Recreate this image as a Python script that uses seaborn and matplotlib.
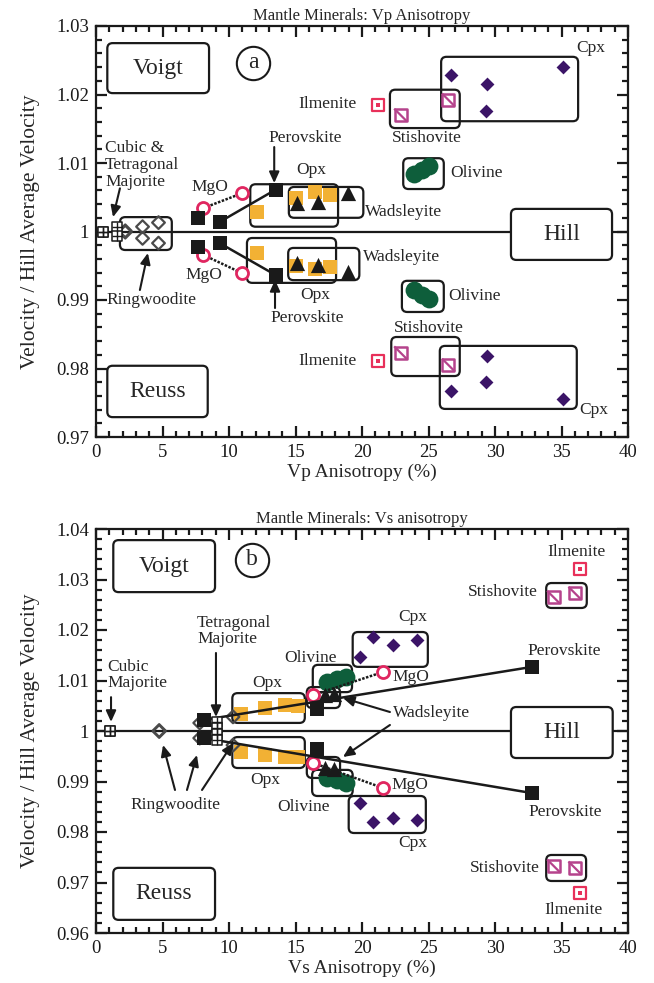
import matplotlib
matplotlib.use("Agg")
import matplotlib.pyplot as plt
import matplotlib.ticker as mticker
from matplotlib.patches import FancyBboxPatch
from matplotlib.path import Path
import numpy as np
import pandas as pd
import seaborn as sns

# ---------------- panel (a): Vp anisotropy ----------------
vp_cubic_x = [0.5]
vp_cubic_voigt = [1.0000]
vp_cubic_reuss = [1.0000]
vp_tetra_x = [1.6]
vp_tetra_voigt = [1.0007]
vp_tetra_reuss = [0.9993]
vp_ring_x = [2.2, 3.5, 4.7]
vp_ring_voigt = [1.0001, 1.0007, 1.0013]
vp_ring_reuss = [0.9999, 0.9990, 0.9983]
vp_mgo_x = [8.05, 11.0]
vp_mgo_voigt = [1.0034, 1.0056]
vp_mgo_reuss = [0.9966, 0.9939]
vp_pv_x = [7.7, 9.3, 13.5]
vp_pv_voigt = [1.0020, 1.0014, 1.0061]
vp_pv_reuss = [0.9977, 0.9983, 0.99365]
vp_opx_x = [12.1, 15.0, 16.5, 17.6]
vp_opx_voigt = [1.0029, 1.0049, 1.0057, 1.0054]
vp_opx_reuss = [0.9969, 0.9950, 0.9945, 0.9948]
vp_wad_x = [15.1, 16.7, 18.95]
vp_wad_voigt = [1.0042, 1.0043, 1.0056]
vp_wad_reuss = [0.9954, 0.9951, 0.9941]
vp_ol_x = [23.9, 24.5, 25.0]
vp_ol_voigt = [1.0084, 1.0090, 1.0095]
vp_ol_reuss = [0.9914, 0.9907, 0.9901]
vp_cpx_x = [26.7, 29.4, 29.3, 35.1]
vp_cpx_voigt = [1.0229, 1.0215, 1.0176, 1.0240]
vp_cpx_reuss = [0.9767, 0.9818, 0.9780, 0.9755]
vp_st_x = [22.9, 26.5]
vp_st_voigt = [1.0170, 1.0192]
vp_st_reuss = [0.9823, 0.9805]
vp_ilm_x = [21.2]
vp_ilm_voigt = [1.0185]
vp_ilm_reuss = [0.9811]

# ---------------- panel (b): Vs anisotropy ----------------
vs_cubic_x = [1.05]
vs_cubic_voigt = [1.0000]
vs_cubic_reuss = [1.0000]
vs_tetra_x = [9.1, 9.1]
vs_tetra_voigt = [1.0018, 1.0006]
vs_tetra_reuss = [0.9994, 0.9982]
vs_ring_x = [4.75, 7.8, 10.3]
vs_ring_voigt = [1.0001, 1.0016, 1.0028]
vs_ring_reuss = [0.9999, 0.9986, 0.9972]
vs_mgo_x = [16.3, 21.6]
vs_mgo_voigt = [1.0071, 1.0117]
vs_mgo_reuss = [0.9937, 0.9887]
vs_pv_x = [8.1, 16.6, 32.8]
vs_pv_voigt = [1.0022, 1.0043, 1.0127]
vs_pv_reuss = [0.9986, 0.9964, 0.9877]
vs_opx_x = [10.9, 12.7, 14.2, 15.2]
vs_opx_voigt = [1.0034, 1.0046, 1.0051, 1.0050]
vs_opx_reuss = [0.9958, 0.9952, 0.9949, 0.9948]
vs_wad_x = [17.2, 17.9]
vs_wad_voigt = [1.0072, 1.0074]
vs_wad_reuss = [0.9926, 0.9924]
vs_ol_x = [17.4, 18.1, 18.8]
vs_ol_voigt = [1.0097, 1.0103, 1.0107]
vs_ol_reuss = [0.9906, 0.9902, 0.9897]
vs_cpx_x = [19.85, 20.8, 22.3, 24.1]
vs_cpx_voigt = [1.0147, 1.0186, 1.0170, 1.0180]
vs_cpx_reuss = [0.9857, 0.9820, 0.9828, 0.9824]
vs_st_x = [34.4, 36.0]
vs_st_voigt = [1.0265, 1.0273]
vs_st_reuss = [0.9733, 0.9729]
vs_ilm_x = [36.4]
vs_ilm_voigt = [1.0321]
vs_ilm_reuss = [0.9679]

x_ticks = [0, 5, 10, 15, 20, 25, 30, 35, 40]
vp_y_ticks = [0.97, 0.98, 0.99, 1.00, 1.01, 1.02, 1.03]
vs_y_ticks = [0.96, 0.97, 0.98, 0.99, 1.00, 1.01, 1.02, 1.03, 1.04]

sns.set_theme(style="ticks")
plt.rcParams["font.family"] = ["Liberation Serif", "DejaVu Serif"]
plt.rcParams["axes.linewidth"] = 1.6

C_OPX = "#f2b134"
C_OL = "#0e5e3b"
C_CPX = "#3b1467"
C_ST = "#b5438c"
C_ILM = "#e8305a"
C_MGO = "#e02660"
C_RING = "#4a4a4a"

DIAG = Path([(-0.5, 0.5), (0.5, -0.5)], [Path.MOVETO, Path.LINETO])


def frame(x, v, r):
    n = len(x)
    return pd.DataFrame({"aniso": list(x) * 2, "ratio": list(v) + list(r),
                         "bound": ["Voigt"] * n + ["Reuss"] * n})


def pts(ax, df, **kw):
    sns.scatterplot(data=df, x="aniso", y="ratio", ax=ax, legend=False, **kw)


def draw_points(ax, d):
    for key in ("cubic", "tetra"):
        df = frame(*d[key])
        pts(ax, df, marker="s", s=55, facecolor="white", edgecolor="k", linewidth=1.1, zorder=6)
        pts(ax, df, marker="+", s=55, color="k", linewidth=1.0, zorder=7)
    df = frame(*d["ring"])
    pts(ax, df, marker="D", s=42, facecolor="none", edgecolor=C_RING, linewidth=1.6, zorder=5)
    df = frame(*d["opx"])
    pts(ax, df, marker="s", s=110, color=C_OPX, edgecolor=C_OPX, linewidth=0, zorder=3)
    df = frame(*d["ol"])
    pts(ax, df, marker="o", s=165, color=C_OL, edgecolor=C_OL, linewidth=0, zorder=4)
    df = frame(*d["mgo"])
    pts(ax, df, marker="o", s=75, facecolor="white", edgecolor=C_MGO, linewidth=2.0, zorder=5)
    df = frame(*d["pv"])
    pts(ax, df, marker="s", s=90, color="k", edgecolor="k", linewidth=0, zorder=6)
    df = frame(*d["wad"])
    pts(ax, df, marker="^", s=120, color="k", edgecolor="k", linewidth=0, zorder=6)
    df = frame(*d["cpx"])
    pts(ax, df, marker="D", s=50, color=C_CPX, edgecolor=C_CPX, linewidth=0, zorder=5)
    df = frame(*d["st"])
    pts(ax, df, marker="s", s=85, facecolor="white", edgecolor=C_ST, linewidth=1.8, zorder=5)
    pts(ax, df, marker=DIAG, s=85, facecolor="none", edgecolor=C_ST, linewidth=1.6, zorder=6)
    df = frame(*d["ilm"])
    pts(ax, df, marker="s", s=70, facecolor="white", edgecolor=C_ILM, linewidth=1.6, zorder=5)
    pts(ax, df, marker="s", s=5, color=C_ILM, edgecolor=C_ILM, linewidth=0, zorder=6)


def rbox(ax, x0, x1, y0, y1, asp, fc="none", z=2, lw=1.6):
    p = FancyBboxPatch((x0, y0), x1 - x0, y1 - y0,
                       boxstyle="round,pad=0,rounding_size=0.4",
                       mutation_aspect=asp, fc=fc, ec="k", lw=lw, zorder=z)
    ax.add_patch(p)


def arrow(ax, x0, y0, x1, y1):
    ax.annotate("", xy=(x1, y1), xytext=(x0, y0),
                arrowprops=dict(arrowstyle="-|>,head_length=0.55,head_width=0.25",
                                lw=1.5, color="k", shrinkA=0, shrinkB=0), zorder=8)


def style_axes(ax, ylo, yhi, yticks, minor_y):
    ax.set_xlim(0, 40)
    ax.set_ylim(ylo, yhi)
    ax.set_xticks(x_ticks)
    ax.set_yticks(yticks)
    ax.xaxis.set_minor_locator(mticker.MultipleLocator(1))
    ax.yaxis.set_minor_locator(mticker.MultipleLocator(minor_y))
    ax.yaxis.set_major_formatter(mticker.FuncFormatter(lambda v, p: "%g" % round(v, 4)))
    ax.tick_params(which="both", direction="in", top=True, right=True, width=1.6,
                   labelsize=13.5, pad=5, colors="k")
    ax.tick_params(which="major", length=8)
    ax.tick_params(which="minor", length=4)
    for s in ax.spines.values():
        s.set_color("k")
        s.set_linewidth(1.6)
    ax.set_ylabel("Velocity / Hill Average Velocity", fontsize=15.5)
    ax.yaxis.set_label_coords(-0.105, 0.5)
    ax.axhline(1.0, color="k", lw=1.6, zorder=1)


W, H = 654, 983
fig = plt.figure(figsize=(W / 100, H / 100), dpi=100)
axA = fig.add_axes([96 / W, 1 - 437 / H, 532 / W, 411 / H])
axB = fig.add_axes([96 / W, 1 - 933 / H, 532 / W, 404 / H])

LBL = 12.5
BIG = 17

# ===================== panel a =====================
ax = axA
asp = 13.3 / 6850
style_axes(ax, 0.97, 1.03, vp_y_ticks, 0.002)
ax.set_title("Mantle Minerals: Vp Anisotropy", fontsize=12, pad=4)
ax.set_xlabel("Vp Anisotropy (%)", fontsize=14, labelpad=2)

dA = {
    "cubic": (vp_cubic_x, vp_cubic_voigt, vp_cubic_reuss),
    "tetra": (vp_tetra_x, vp_tetra_voigt, vp_tetra_reuss),
    "ring": (vp_ring_x, vp_ring_voigt, vp_ring_reuss),
    "mgo": (vp_mgo_x, vp_mgo_voigt, vp_mgo_reuss),
    "pv": (vp_pv_x, vp_pv_voigt, vp_pv_reuss),
    "opx": (vp_opx_x, vp_opx_voigt, vp_opx_reuss),
    "wad": (vp_wad_x, vp_wad_voigt, vp_wad_reuss),
    "ol": (vp_ol_x, vp_ol_voigt, vp_ol_reuss),
    "cpx": (vp_cpx_x, vp_cpx_voigt, vp_cpx_reuss),
    "st": (vp_st_x, vp_st_voigt, vp_st_reuss),
    "ilm": (vp_ilm_x, vp_ilm_voigt, vp_ilm_reuss),
}
draw_points(ax, dA)
for ys in (vp_pv_voigt, vp_pv_reuss):
    ax.plot(vp_pv_x[1:], ys[1:], color="k", lw=1.8, zorder=5)
for ys in (vp_mgo_voigt, vp_mgo_reuss):
    ax.plot(vp_mgo_x, ys, color="k", lw=1.8, ls=(0, (1, 0.6)), zorder=4)

rbox(ax, 1.8, 5.7, 0.9973, 1.0021, asp)
rbox(ax, 11.6, 18.2, 1.0007, 1.0069, asp)
rbox(ax, 11.35, 18.05, 0.9925, 0.99905, asp)
rbox(ax, 14.5, 20.1, 1.0020, 1.0065, asp)
rbox(ax, 14.45, 19.8, 0.9929, 0.9976, asp)
rbox(ax, 23.1, 26.15, 1.0062, 1.0107, asp)
rbox(ax, 23.0, 26.15, 0.98825, 0.9928, asp)
rbox(ax, 25.95, 36.25, 1.0161, 1.0255, asp)
rbox(ax, 25.85, 36.15, 0.9741, 0.9833, asp)
rbox(ax, 22.1, 27.35, 1.0151, 1.0207, asp)
rbox(ax, 22.2, 27.35, 0.9789, 0.9846, asp)
rbox(ax, 0.85, 8.5, 1.0202, 1.0275, asp, fc="white", z=9)
rbox(ax, 0.85, 8.4, 0.9729, 0.9804, asp, fc="white", z=9)
rbox(ax, 31.2, 38.8, 0.99585, 1.0033, asp, fc="white", z=9)
ax.text(4.67, 1.02385, "Voigt", fontsize=BIG, ha="center", va="center", zorder=10)
ax.text(4.62, 0.97665, "Reuss", fontsize=BIG, ha="center", va="center", zorder=10)
ax.text(35.0, 0.99957, "Hill", fontsize=BIG, ha="center", va="center", zorder=10)
ax.plot([11.84], [1.02453], "o", ms=24, mfc="none", mec="k", mew=1.5, zorder=9)
ax.text(11.84, 1.02465, "a", fontsize=BIG, ha="center", va="center", zorder=10)

textsA = [
    ("Cubic &\nTetragonal\nMajorite", 0.68, 1.0097, "left"),
    ("Ringwoodite", 4.17, 0.9900, "center"),
    ("MgO", 8.57, 1.0065, "center"),
    ("MgO", 8.12, 0.99365, "center"),
    ("Perovskite", 15.7, 1.01365, "center"),
    ("Perovskite", 15.9, 0.98737, "center"),
    ("Opx", 16.2, 1.0090, "center"),
    ("Opx", 16.5, 0.99073, "center"),
    ("Wadsleyite", 20.2, 1.00285, "left"),
    ("Wadsleyite", 20.1, 0.99628, "left"),
    ("Olivine", 26.6, 1.00854, "left"),
    ("Olivine", 26.5, 0.99058, "left"),
    ("Stishovite", 24.9, 1.01365, "center"),
    ("Stishovite", 25.0, 0.98591, "center"),
    ("Ilmenite", 17.4, 1.0186, "center"),
    ("Ilmenite", 17.4, 0.9811, "center"),
    ("Cpx", 37.2, 1.02679, "center"),
    ("Cpx", 37.45, 0.97394, "center"),
]
for t, x, y, ha in textsA:
    ax.text(x, y, t, fontsize=LBL, ha=ha, va="center", linespacing=1.05, zorder=10)
arrow(ax, 1.8, 1.0063, 1.28, 1.0021)
arrow(ax, 3.3, 0.99146, 3.9, 0.99686)
arrow(ax, 13.4, 1.01233, 13.4, 1.00707)
arrow(ax, 13.46, 0.98883, 13.46, 0.99292)

# ===================== panel b =====================
ax = axB
asp = 13.3 / 5050
style_axes(ax, 0.96, 1.04, vs_y_ticks, 0.002)
ax.set_title("Mantle Minerals: Vs anisotropy", fontsize=12, pad=4)
ax.set_xlabel("Vs Anisotropy (%)", fontsize=14, labelpad=2)

dB = {
    "cubic": (vs_cubic_x, vs_cubic_voigt, vs_cubic_reuss),
    "tetra": (vs_tetra_x, vs_tetra_voigt, vs_tetra_reuss),
    "ring": (vs_ring_x, vs_ring_voigt, vs_ring_reuss),
    "mgo": (vs_mgo_x, vs_mgo_voigt, vs_mgo_reuss),
    "pv": (vs_pv_x, vs_pv_voigt, vs_pv_reuss),
    "opx": (vs_opx_x, vs_opx_voigt, vs_opx_reuss),
    "wad": (vs_wad_x, vs_wad_voigt, vs_wad_reuss),
    "ol": (vs_ol_x, vs_ol_voigt, vs_ol_reuss),
    "cpx": (vs_cpx_x, vs_cpx_voigt, vs_cpx_reuss),
    "st": (vs_st_x, vs_st_voigt, vs_st_reuss),
    "ilm": (vs_ilm_x, vs_ilm_voigt, vs_ilm_reuss),
}
draw_points(ax, dB)
for ys in (vs_pv_voigt, vs_pv_reuss):
    ax.plot([vs_pv_x[0], vs_pv_x[-1]], [ys[0], ys[-1]], color="k", lw=1.8, zorder=5)
for ys in (vs_mgo_voigt, vs_mgo_reuss):
    ax.plot(vs_mgo_x, ys, color="k", lw=1.8, ls=(0, (1, 0.6)), zorder=4)

rbox(ax, 10.25, 15.7, 1.0016, 1.0075, asp)
rbox(ax, 10.25, 15.7, 0.99267, 0.9988, asp)
rbox(ax, 16.3, 19.25, 1.0077, 1.0131, asp)
rbox(ax, 16.25, 19.3, 0.98713, 0.9923, asp)
rbox(ax, 15.85, 18.35, 1.00455, 1.0087, asp)
rbox(ax, 15.85, 18.35, 0.9907, 0.99485, asp)
rbox(ax, 19.3, 24.95, 1.0127, 1.0196, asp)
rbox(ax, 19.0, 24.8, 0.9798, 0.98713, asp)
rbox(ax, 33.85, 36.9, 1.02436, 1.0293, asp)
rbox(ax, 33.85, 36.85, 0.9703, 0.97545, asp)
rbox(ax, 1.3, 8.95, 1.0275, 1.0378, asp, fc="white", z=9)
rbox(ax, 1.3, 8.95, 0.9626, 0.9729, asp, fc="white", z=9)
rbox(ax, 31.2, 38.85, 0.99465, 1.00475, asp, fc="white", z=9)
ax.text(5.12, 1.03265, "Voigt", fontsize=BIG, ha="center", va="center", zorder=10)
ax.text(5.12, 0.96775, "Reuss", fontsize=BIG, ha="center", va="center", zorder=10)
ax.text(35.0, 0.9997, "Hill", fontsize=BIG, ha="center", va="center", zorder=10)
ax.plot([11.73], [1.0339], "o", ms=24, mfc="none", mec="k", mew=1.5, zorder=9)
ax.text(11.73, 1.03405, "b", fontsize=BIG, ha="center", va="center", zorder=10)

textsB = [
    ("Cubic\nMajorite", 0.83, 1.0111, "left"),
    ("Tetragonal\nMajorite", 7.6, 1.0198, "left"),
    ("Opx", 12.9, 1.0095, "center"),
    ("Opx", 12.7, 0.9903, "center"),
    ("Olivine", 16.1, 1.01446, "center"),
    ("Olivine", 15.6, 0.98495, "center"),
    ("Wadsleyite", 22.3, 1.00356, "left"),
    ("MgO", 22.3, 1.0107, "left"),
    ("MgO", 22.2, 0.9893, "left"),
    ("Cpx", 23.8, 1.0226, "center"),
    ("Cpx", 23.8, 0.9778, "center"),
    ("Perovskite", 35.2, 1.01584, "center"),
    ("Perovskite", 35.26, 0.9840, "center"),
    ("Stishovite", 33.2, 1.02752, "right"),
    ("Stishovite", 33.4, 0.97287, "right"),
    ("Ilmenite", 36.1, 1.03545, "center"),
    ("Ilmenite", 35.9, 0.96455, "center"),
    ("Ringwoodite", 5.94, 0.98535, "center"),
]
for t, x, y, ha in textsB:
    ax.text(x, y, t, fontsize=LBL, ha=ha, va="center", linespacing=1.05, zorder=10)
arrow(ax, 1.13, 1.0067, 1.13, 1.0018)
arrow(ax, 9.02, 1.01545, 9.02, 1.00277)
arrow(ax, 22.1, 1.00376, 18.57, 1.00653)
arrow(ax, 22.1, 1.00119, 18.57, 0.99485)
arrow(ax, 5.94, 0.98832, 5.04, 0.99723)
arrow(ax, 6.84, 0.98832, 7.59, 0.99525)
arrow(ax, 7.97, 0.98832, 10.3, 0.99762)

fig.savefig("out.png", dpi=100)
